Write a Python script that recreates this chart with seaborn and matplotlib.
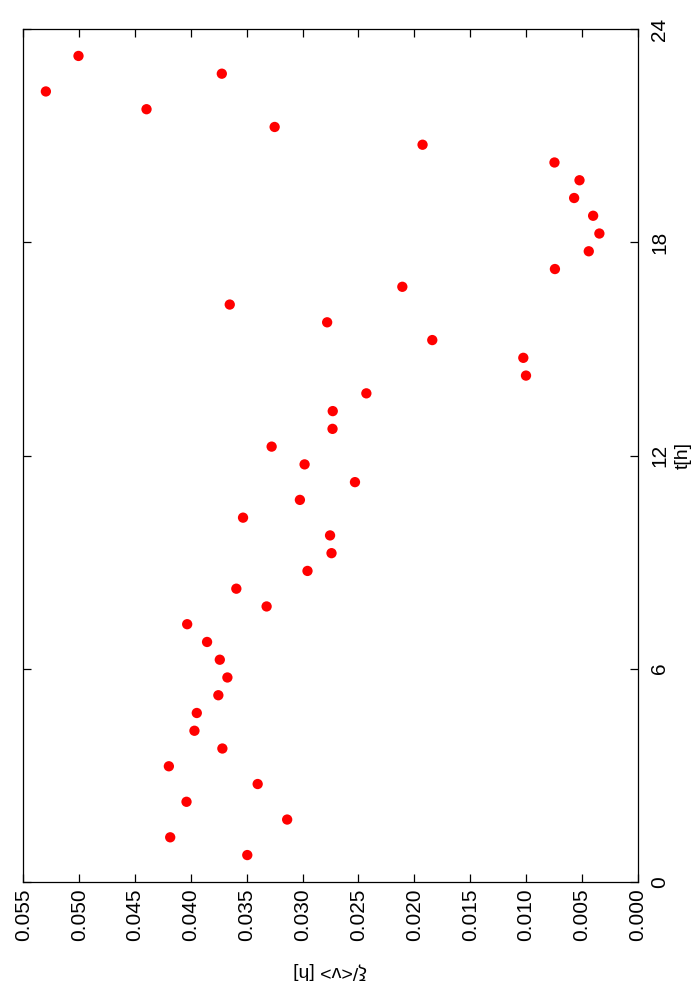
import matplotlib
matplotlib.use("Agg")
import matplotlib.pyplot as plt
import seaborn as sns
import pandas as pd
from matplotlib.ticker import FormatStrFormatter

# time points [h]
t_hours = [0.75, 1.25, 1.75, 2.25, 2.75, 3.25, 3.75, 4.25, 4.75, 5.25,
           5.75, 6.25, 6.75, 7.25, 7.75, 8.25, 8.75, 9.25, 9.75, 10.25,
           10.75, 11.25, 11.75, 12.25, 12.75, 13.25, 13.75, 14.25, 14.75, 15.25,
           15.75, 16.25, 16.75, 17.25, 17.75, 18.25, 18.75, 19.25, 19.75, 20.25,
           20.75, 21.25, 21.75, 22.25, 22.75, 23.25]
# xi / <v> [h]
xi_v = [0.03495, 0.04185, 0.03138, 0.04039, 0.03402, 0.04197, 0.03718, 0.03968, 0.03947, 0.03754,
        0.03673, 0.03741, 0.03855, 0.04033, 0.03322, 0.03593, 0.02956, 0.02741, 0.02754, 0.03533,
        0.03024, 0.02531, 0.02982, 0.03277, 0.02732, 0.02730, 0.02429, 0.01000, 0.01024, 0.01839,
        0.02780, 0.03652, 0.02107, 0.00741, 0.00438, 0.00343, 0.00399, 0.00569, 0.00521, 0.00745,
        0.01926, 0.03250, 0.04397, 0.05298, 0.03723, 0.05006]

xi_ticks = [0.000, 0.005, 0.010, 0.015, 0.020, 0.025, 0.030, 0.035, 0.040, 0.045, 0.050, 0.055]
t_ticks = [0, 6, 12, 18, 24]

sns.set_theme(style="ticks")
plt.rcParams['font.family'] = ['Liberation Sans', 'DejaVu Sans']

df = pd.DataFrame({"xi": xi_v, "t": t_hours})

fig = plt.figure(figsize=(7, 10), dpi=100)
ax = fig.add_axes([0.0333, 0.1183, 0.8777, 0.8524])

sns.scatterplot(data=df, x="xi", y="t", ax=ax, color="#ff0000", s=55,
                edgecolor="none", linewidth=0, legend=False)

ax.set_xlim(0.055, 0.0)
ax.set_ylim(0, 24)
ax.set_xticks(xi_ticks)
ax.set_yticks(t_ticks)
ax.xaxis.set_major_formatter(FormatStrFormatter('%.3f'))

ax.yaxis.set_label_position('right')
ax.tick_params(axis='both', which='major', direction='in', length=6, width=0.9,
               color='black', top=True, bottom=True, left=True, right=True,
               labelleft=False, labelright=True, labelsize=15, labelcolor='black')
ax.tick_params(axis='x', pad=5)
ax.tick_params(axis='y', pad=9)
for lab in ax.get_xticklabels():
    lab.set_rotation(90)
    lab.set_va('top')
    lab.set_ha('center')
for lab in ax.get_yticklabels():
    lab.set_rotation(90)
    lab.set_va('center')
    lab.set_ha('left')

for sp in ax.spines.values():
    sp.set_visible(True)
    sp.set_linewidth(0.9)
    sp.set_color('black')

ax.set_xlabel("ξ/<v> [h]", fontsize=14, rotation=180, labelpad=15, color='black')
ax.set_ylabel("t[h]", fontsize=14, rotation=90, labelpad=4, color='black')
ax.grid(False)

fig.savefig("out.png", dpi=100)
